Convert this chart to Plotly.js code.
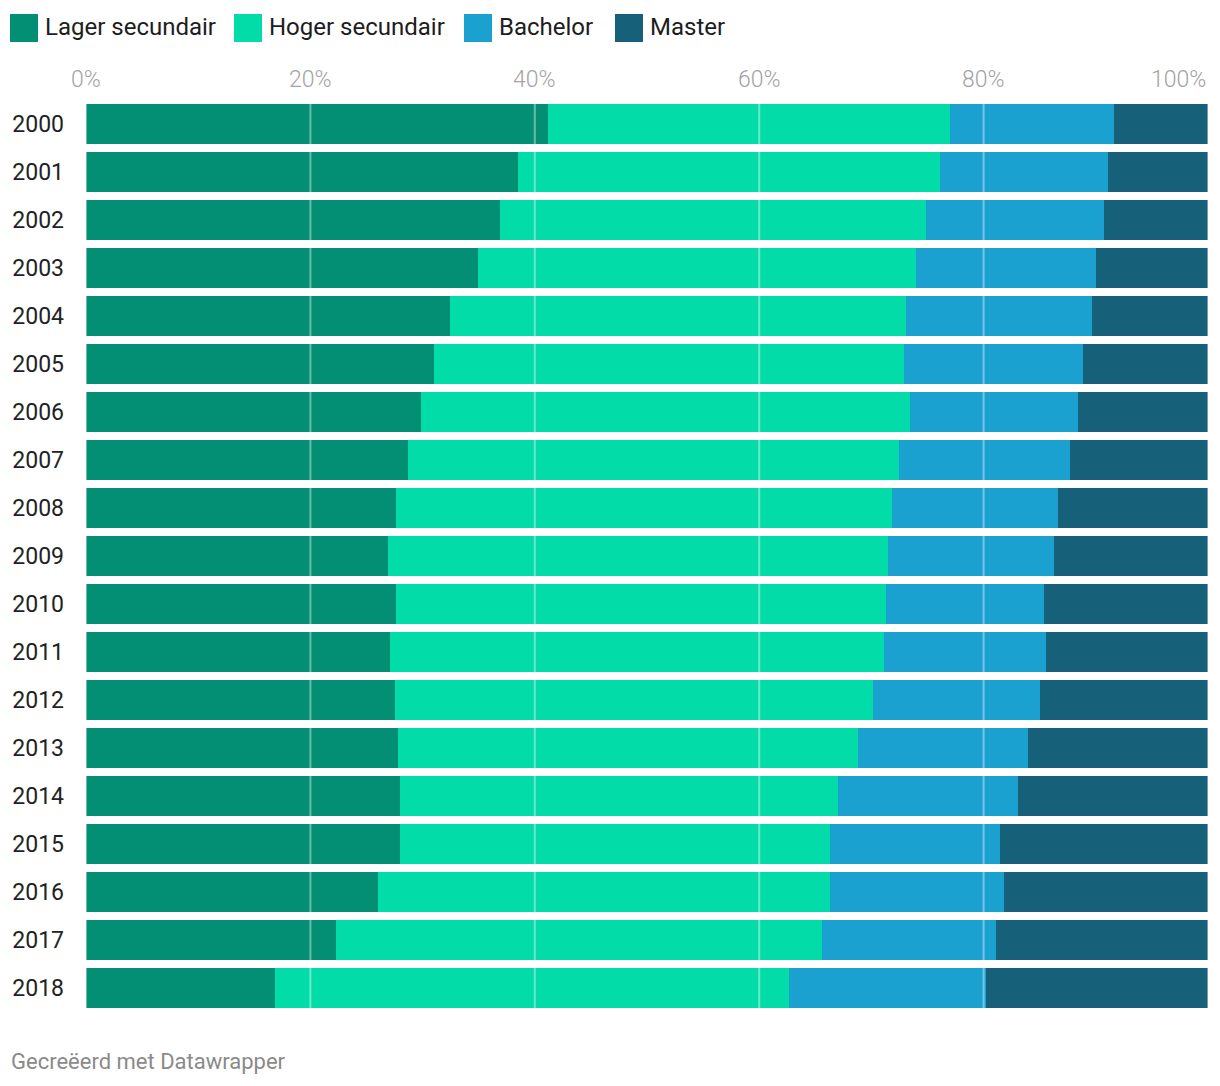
<!DOCTYPE html>
<html>
<head>
<meta charset="utf-8">
<script src="https://cdn.plot.ly/plotly-3.0.1.min.js"></script>
<style>html,body{margin:0;padding:0;background:#fff;}#chart{width:1220px;height:1086px;}</style>
</head>
<body>
<div id="chart"></div>
<script>
const years = ['2000','2001','2002','2003','2004','2005','2006','2007','2008','2009','2010','2011','2012','2013','2014','2015','2016','2017','2018'];
const lagerSecundair = [41.2,38.5,36.9,34.9,32.4,31.0,29.9,28.7,27.6,26.9,27.6,27.1,27.5,27.8,28.0,28.0,26.0,22.3,16.8];
const hogerSecundair = [35.8,37.6,38.0,39.1,40.7,41.9,43.5,43.8,44.2,44.6,43.7,44.0,42.6,41.0,39.0,38.3,40.3,43.3,45.9];
const bachelor = [14.6,15.0,15.8,16.0,16.6,16.0,15.0,15.2,14.8,14.8,14.1,14.5,14.9,15.2,16.1,15.2,15.5,15.5,17.5];
const master = [8.4,8.9,9.3,10.0,10.3,11.1,11.6,12.3,13.4,13.7,14.6,14.4,15.0,16.0,16.9,18.5,18.2,18.9,19.8];
const seriesNames = ['Lager secundair','Hoger secundair','Bachelor','Master'];
const seriesColors = ['#028f73','#02dca9','#1aa1d0','#17607a'];
const xTicks = [0,20,40,60,80,100];
const xTickLabels = ['0%','20%','40%','60%','80%','100%'];

const seriesValues = [lagerSecundair, hogerSecundair, bachelor, master];
const traces = seriesValues.map((vals, i) => ({
  type: 'bar', orientation: 'h', name: seriesNames[i],
  y: years, x: vals,
  marker: {color: seriesColors[i], line: {width: 0}},
  hoverinfo: 'x+y+name', showlegend: false
}));

const shapes = [];
const annotations = [];
xTicks.forEach((t, i) => {
  shapes.push({type: 'line', xref: 'x', yref: 'paper', x0: t, x1: t, y0: 0, y1: 1,
    line: {color: 'rgba(255,255,255,0.4)', width: 2}, layer: 'above'});
  annotations.push({xref: 'x', yref: 'paper', x: t, y: 1, yshift: 21,
    text: xTickLabels[i], showarrow: false,
    xanchor: i === xTicks.length - 1 ? 'right' : 'center', yanchor: 'middle',
    font: {family: 'Roboto', size: 23, color: '#a3a3a3', weight: 300}});
});

// custom legend
const legendX = [10, 234, 464, 615];
seriesNames.forEach((n, i) => {
  shapes.push({type: 'rect', xref: 'paper', yref: 'paper', xsizemode: 'pixel', ysizemode: 'pixel',
    xanchor: 0, yanchor: 1, x0: legendX[i] - 86, x1: legendX[i] - 86 + 28,
    y0: 100 - 14, y1: 100 - 42,
    fillcolor: seriesColors[i], line: {width: 0}, layer: 'above'});
  annotations.push({xref: 'paper', yref: 'paper', x: 0, y: 1,
    xshift: legendX[i] - 86 + 33, yshift: 100 - 27,
    text: n, showarrow: false, xanchor: 'left', yanchor: 'middle',
    font: {family: 'Roboto', size: 24, color: '#1d1d1d'}});
});

annotations.push({xref: 'paper', yref: 'paper', x: 0, y: 0, xshift: -77, yshift: -49,
  text: 'Gecreëerd met Datawrapper', showarrow: false, xanchor: 'left', yanchor: 'middle',
  font: {family: 'Roboto', size: 22, color: '#8a8a8a'}});

const layout = {
  width: 1220, height: 1086,
  margin: {l: 86, r: 12, t: 100, b: 74, pad: 0},
  paper_bgcolor: '#ffffff', plot_bgcolor: '#ffffff',
  barmode: 'stack', bargap: 0.1667,
  showlegend: false,
  font: {family: 'Roboto'},
  xaxis: {range: [0, 100], side: 'top', showgrid: false, zeroline: false,
    showticklabels: false, ticks: '', fixedrange: true},
  yaxis: {type: 'category', autorange: 'reversed', showgrid: false, zeroline: false,
    ticks: '', ticklabelstandoff: 21,
    tickfont: {family: 'Roboto', size: 23, color: '#222222'}},
  shapes: shapes, annotations: annotations
};
Plotly.newPlot('chart', traces, layout, {displayModeBar: false, staticPlot: true});
</script>
</body>
</html>
